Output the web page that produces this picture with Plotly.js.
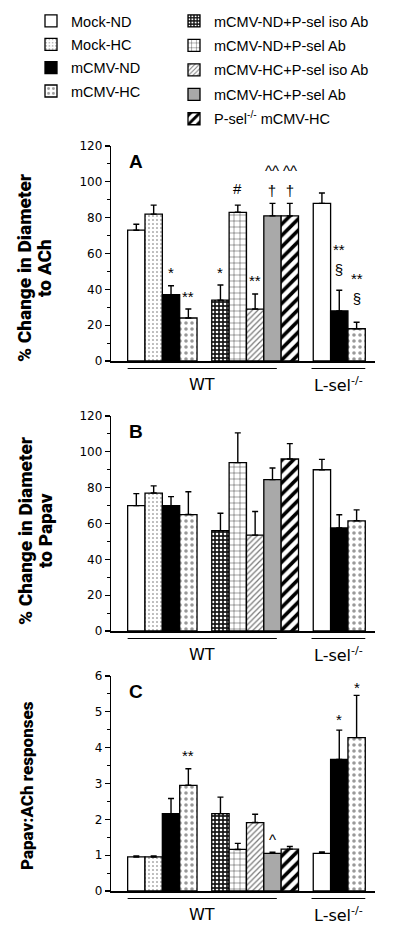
<!DOCTYPE html>
<html><head><meta charset="utf-8">
<script src="https://cdn.plot.ly/plotly-3.0.1.min.js"></script>
<style>html,body{margin:0;padding:0;background:#fff}#chart{width:400px;height:926px}</style>
</head><body><div id="chart"></div>
<script>
// ---------- data ----------
const seriesNames = ['Mock-ND','Mock-HC','mCMV-ND','mCMV-HC','mCMV-ND+P-sel iso Ab','mCMV-ND+P-sel Ab','mCMV-HC+P-sel iso Ab','mCMV-HC+P-sel Ab','P-sel<sup>-/-</sup> mCMV-HC'];
const barSeries = ['Mock-ND','Mock-HC','mCMV-ND','mCMV-HC','mCMV-ND+P-sel iso Ab','mCMV-ND+P-sel Ab','mCMV-HC+P-sel iso Ab','mCMV-HC+P-sel Ab','P-sel<sup>-/-</sup> mCMV-HC','Mock-ND','mCMV-ND','mCMV-HC'];
const barGroup = ['WT','WT','WT','WT','WT','WT','WT','WT','WT','L-sel<sup>-/-</sup>','L-sel<sup>-/-</sup>','L-sel<sup>-/-</sup>'];
const barBlock = [0,0,0,0,1,1,1,1,1,2,2,2];
const achMean = [73,82,37,24,34,83,29,81,81,88,28,18];
const achErr  = [3.3,5,5,5,8.4,4,8.4,7,7,5.8,11.5,3.6];
const papMean = [70,77,70,65,56,94,53.5,84.5,96,90,57.5,61.5];
const papErr  = [6.7,4,5,12.7,9.7,16.6,13.2,6.5,8.6,5.8,7.4,6.1];
const ratioMean = [0.95,0.95,2.16,2.95,2.16,1.16,1.91,1.05,1.17,1.05,3.67,4.28];
const ratioErr  = [0.03,0.03,0.42,0.46,0.46,0.17,0.23,0.03,0.07,0.04,0.82,1.18];
const panelLetters = ['A','B','C'];
const yTitles = [['% Change in Diameter','to ACh'],['% Change in Diameter','to Papav'],['Papav:ACh responses']];
// significance marks: [bar index, symbol(s), lift in px above error cap]
const sigA = [[2,'*',13],[3,'**',13],[4,'*',13],[5,'#',17],[6,'**',13],[7,'^^<br>†',23],[8,'^^<br>†',23],[10,'**<br>§',31],[11,'**<br>§',34]];
const sigB = [];
const sigC = [[3,'**',13],[7,'^',13],[10,'*',11],[11,'*',8]];

// ---------- styles ----------
const S = {
 'Mock-ND': {color:'white'},
 'Mock-HC': {color:'white', pattern:{shape:'.', fgcolor:'#666', bgcolor:'white', size:4, solidity:0.12}},
 'mCMV-ND': {color:'black'},
 'mCMV-HC': {color:'white', pattern:{shape:'.', fgcolor:'#999', bgcolor:'white', size:6, solidity:0.28}},
 'mCMV-ND+P-sel iso Ab': {color:'#222', pattern:{shape:'.', fgcolor:'white', bgcolor:'#1a1a1a', size:4, solidity:0.35}},
 'mCMV-ND+P-sel Ab': {color:'white', pattern:{shape:'+', fgcolor:'black', bgcolor:'white', size:6, solidity:0.12}},
 'mCMV-HC+P-sel iso Ab': {color:'white', pattern:{shape:'/', fgcolor:'#777', bgcolor:'white', size:4, solidity:0.3}},
 'mCMV-HC+P-sel Ab': {color:'#a9a9a9'},
 'P-sel<sup>-/-</sup> mCMV-HC': {color:'white', pattern:{shape:'/', fgcolor:'black', bgcolor:'white', size:8, solidity:0.45}}
};
const GAP = 0.85;
const xPos = barBlock.map((b,i)=> i + b*GAP);
const panels = [[achMean,achErr],[papMean,papErr],[ratioMean,ratioErr]];
const H = 926, W = 400, ML = 111, MR = 25;
const pxTop = [146,416,676], pxBot = [361,631,891];
const TITLE_FONT = 'Roboto, Liberation Sans, sans-serif';

const traces = [];
panels.forEach(([m,e],p)=>{
  seriesNames.forEach((s,si)=>{
    const idx = barSeries.map((b,i)=>b===s?i:-1).filter(i=>i>=0);
    const st = S[s];
    const marker = {color: st.color, line:{color:'black', width:1.3}};
    if (st.pattern) marker.pattern = st.pattern;
    traces.push({
      type:'bar', name:s, legendgroup:s,
      legend: si<4 ? 'legend' : 'legend2',
      showlegend: p===0,
      x: idx.map(i=>xPos[i]), y: idx.map(i=>m[i]),
      width: idx.map(()=>1),
      xaxis: p===0?'x':'x'+(p+1), yaxis: p===0?'y':'y'+(p+1),
      marker: marker,
      error_y: {type:'data', symmetric:false, array: idx.map(i=>e[i]), arrayminus: idx.map(()=>0),
                color:'black', thickness:1.4, width:3},
      hoverinfo:'skip'
    });
  });
});

const xr = [-1.46, 13.76];
const PW = W-ML-MR;
const layout = {
  width:W, height:H, autosize:false,
  margin:{l:ML, r:MR, t:0, b:0},
  paper_bgcolor:'white', plot_bgcolor:'white',
  barmode:'overlay', showlegend:true,
  font:{family:'Liberation Sans, Arial, sans-serif', color:'black'},
  legend:{x:(31-ML)/PW, y:1-5/H, xanchor:'left', yanchor:'top', bgcolor:'rgba(0,0,0,0)',
          font:{family:'Liberation Sans, Arial, sans-serif', size:14.5, color:'black'}, tracegroupgap:1.5, traceorder:'grouped'},
  legend2:{x:(174-ML)/PW, y:1-5/H, xanchor:'left', yanchor:'top', bgcolor:'rgba(0,0,0,0)',
          font:{family:'Liberation Sans, Arial, sans-serif', size:14.5, color:'black'}, tracegroupgap:2.6, traceorder:'grouped'},
  annotations:[], shapes:[]
};
const yRanges = [[0,120],[0,120],[0,6]];
const yD = [20,20,1], yMinor=[10,10,0.5];
for (let p=0;p<3;p++){
  const xs = p===0?'xaxis':'xaxis'+(p+1), ys = p===0?'yaxis':'yaxis'+(p+1);
  const xa = p===0?'x':'x'+(p+1), ya = p===0?'y':'y'+(p+1);
  layout[xs] = {domain:[0,1], range:xr, anchor:ya, showgrid:false, zeroline:false, showticklabels:false,
                ticks:'', showline:true, linecolor:'black', linewidth:1.5, fixedrange:true};
  layout[ys] = {domain:[1-pxBot[p]/H, 1-pxTop[p]/H], range:yRanges[p], anchor:xa, showgrid:false, zeroline:false,
                showline:true, linecolor:'black', linewidth:1.3, ticks:'outside', ticklen:5, tickwidth:1.2, tickcolor:'black',
                dtick:yD[p], tick0:0, minor:{ticks:'outside', ticklen:3, dtick:yMinor[p], tickcolor:'black', tickwidth:1},
                tickfont:{family:'DejaVu Sans, sans-serif', size:12, color:'black'}, fixedrange:true};
  // panel letter
  layout.annotations.push({xref:xa+' domain', yref:ya+' domain', x:(127-ML)/PW, y:1-3/215, xanchor:'left', yanchor:'top',
     text:'<b>'+panelLetters[p]+'</b>', showarrow:false, font:{family:'Liberation Sans, Arial, sans-serif', size:19, color:'black'}});
  // group underline + labels
  const groupsSeen = [...new Set(barGroup)];
  groupsSeen.forEach(g=>{
    const idx = barGroup.map((b,i)=>b===g?i:-1).filter(i=>i>=0);
    const x0 = xPos[idx[0]]-0.5 - (g==='WT'?0:0.1);
    const x1 = g==='WT' ? xPos[idx[idx.length-1]]-0.75 : xPos[idx[idx.length-1]]+0.5;
    layout.shapes.push({type:'line', xref:xa, yref:ya+' domain', x0:x0, x1:x1, y0:-7.5/215, y1:-7.5/215,
       line:{color:'black', width:1.2}});
    layout.annotations.push({xref:xa, yref:ya+' domain', x:(x0+x1)/2, y:-23.5/215, yanchor:'middle', xanchor:'center',
       text:g, showarrow:false, font:{family:'DejaVu Sans, sans-serif', size:16, color:'black'}});
  });
  // y titles
  const t = yTitles[p];
  const cy = p===0?268:(p===1?531:786);
  const tf = (sz)=>({family:TITLE_FONT, size:sz, color:'black', weight:900});
  if (t.length===2){
    layout.annotations.push({xref:'paper', yref:'paper', x:(25-ML)/PW, y:1-cy/H, xanchor:'center', yanchor:'middle',
      textangle:-90, text:t[0], showarrow:false, font:tf(19)});
    layout.annotations.push({xref:'paper', yref:'paper', x:(45-ML)/PW, y:1-cy/H, xanchor:'center', yanchor:'middle',
      textangle:-90, text:t[1], showarrow:false, font:tf(19)});
  } else {
    layout.annotations.push({xref:'paper', yref:'paper', x:(27-ML)/PW, y:1-cy/H, xanchor:'center', yanchor:'middle',
      textangle:-90, text:t[0], showarrow:false, font:tf(17)});
  }
  // significance marks
  const sig = [sigA,sigB,sigC][p];
  const [m,e] = panels[p];
  sig.forEach(([i,sym,lift])=>{
    layout.annotations.push({xref:xa, yref:ya, x:xPos[i], y:m[i]+e[i], yanchor:'middle', xanchor:'center', borderpad:0,
      yshift:lift, text:sym, showarrow:false, font:{family:'Liberation Sans, Arial, sans-serif', size:15, color:'black'}});
  });
}
Plotly.newPlot('chart', traces, layout, {displayModeBar:false, staticPlot:true});
</script></body></html>
